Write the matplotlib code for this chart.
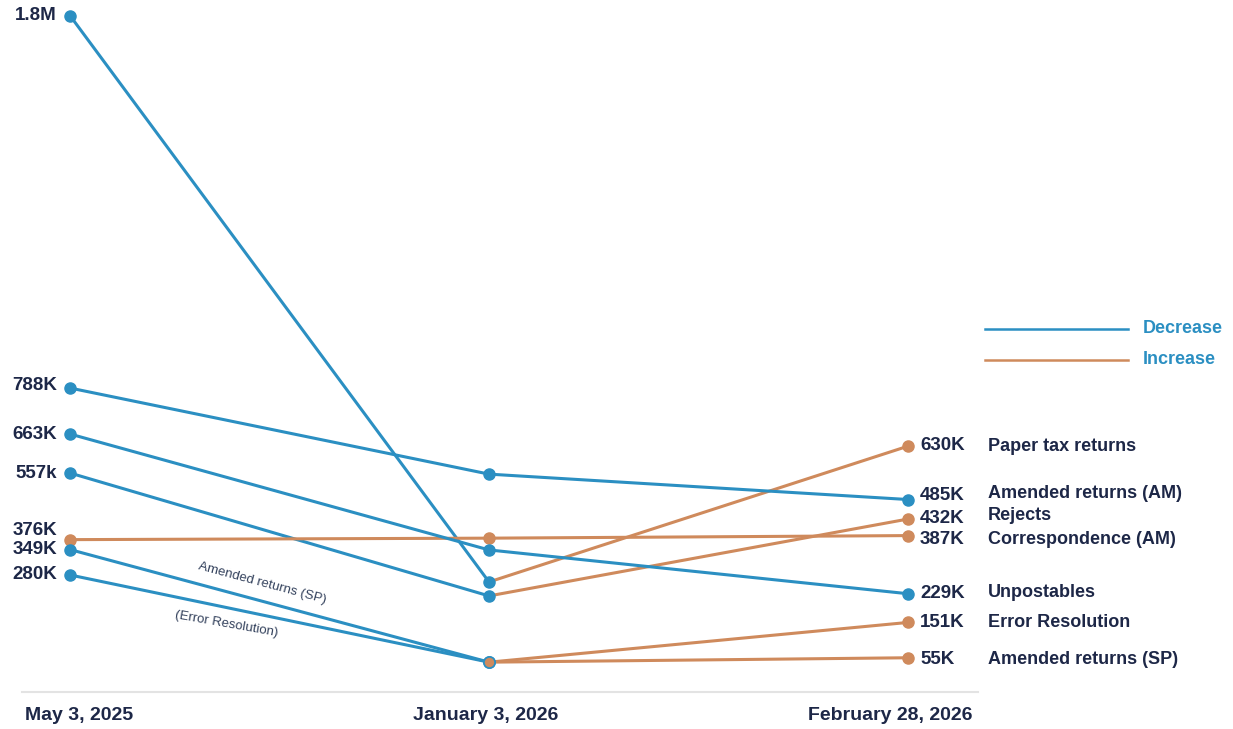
import matplotlib
matplotlib.use("Agg")
import matplotlib.pyplot as plt

# ---------------- data ----------------
dates = ["May 3, 2025", "January 3, 2026", "February 28, 2026"]
series = ["Paper tax returns", "Amended returns (AM)", "Rejects", "Correspondence (AM)",
          "Unpostables", "Error Resolution", "Amended returns (SP)"]
may_2025 = [1800, 788, 557, 376, 663, 280, 349]      # thousands
jan_2026 = [261, 554, 223, 380, 348, 43, 43]
feb_2026 = [630, 485, 432, 387, 229, 151, 55]
left_labels = ["1.8M", "788K", "557k", "376K", "663K", "280K", "349K"]
right_labels = ["630K", "485K", "432K", "387K", "229K", "151K", "55K"]
legend_labels = ["Decrease", "Increase"]

# ---------------- style ----------------
BLUE = "#2b8fc2"
ORANGE = "#cf8a5c"
NAVY = "#1d2747"
FONT = ["Liberation Sans", "DejaVu Sans"]
W, H = 1233, 729
fig = plt.figure(figsize=(W / 100, H / 100), dpi=100)
ax = fig.add_axes([0, 0, 1, 1])
ax.axis("off")

# pixel mapping: x=0 -> 70px, x=2 -> 908px ; 0K -> 678px, 0.368 px per K
PX_PER_X = 419.0
PX_PER_K = 0.368
X0, Y0 = 70.0, 678.0
ax.set_xlim(-X0 / PX_PER_X, (W - X0) / PX_PER_X)
ax.set_ylim((Y0 - H) / PX_PER_K, Y0 / PX_PER_K)

def px2x(px):
    return (px - X0) / PX_PER_X

def px2y(py):
    return (Y0 - py) / PX_PER_K

xs = [0, 1, 2]
vals = list(zip(may_2025, jan_2026, feb_2026))

# lines (segment coloured by direction)
for v in vals:
    for i in range(2):
        c = BLUE if v[i + 1] < v[i] else ORANGE
        ax.plot(xs[i:i + 2], v[i:i + 2], color=c, lw=2.2, solid_capstyle="round", zorder=2)

# markers
for v in vals:
    for i in range(3):
        if i == 0:
            c = BLUE if v[1] < v[0] else ORANGE
        elif i == 2:
            c = BLUE if v[2] < v[1] else ORANGE
        else:
            c = BLUE if v[1] < v[0] else ORANGE
            if v[2] > v[1] and v[1] < v[0] and v[1] < 100:
                # shared low point: orange fill with blue rim
                ax.plot(xs[i], v[i], "o", ms=8, mfc=ORANGE, mec=BLUE, mew=1.2, zorder=4)
                continue
            if v[2] > v[1] and v[1] > v[0]:
                c = ORANGE
        ax.plot(xs[i], v[i], "o", ms=8, color=c, zorder=3)

# left value labels (pixel nudges)
left_nudge = [0, 3, 0, 9, 0, 0, 0]
for v, lab, dy in zip(may_2025, left_labels, left_nudge):
    ax.annotate(lab, (0, v), xytext=(-13, dy), textcoords="offset pixels",
                ha="right", va="center", fontsize=13.5, fontweight="bold",
                color=NAVY, family=FONT)

# right value labels and series names
right_nudge = [1, 4, 1, -4, 0, 0, -2]
name_nudge = [0, 6, 4, -4, 1, 0, -2]
for v, lab, name, dy, dn in zip(feb_2026, right_labels, series, right_nudge, name_nudge):
    ax.annotate(lab, (2, v), xytext=(12, dy), textcoords="offset pixels",
                ha="left", va="center", fontsize=13.5, fontweight="bold",
                color=NAVY, family=FONT)
    ax.annotate(name, (2, v), xytext=(80, dn), textcoords="offset pixels",
                ha="left", va="center", fontsize=13, fontweight="bold",
                color=NAVY, family=FONT)

# in-line annotations
ax.text(px2x(262), px2y(583), "Amended returns (SP)", rotation=-15, rotation_mode="anchor",
        ha="center", va="center", fontsize=9.5, color="#33415c", family=FONT)
ax.text(px2x(226), px2y(624), "(Error Resolution)", rotation=-10, rotation_mode="anchor",
        ha="center", va="center", fontsize=9.5, color="#33415c", family=FONT)

# baseline
ax.plot([px2x(22), px2x(978)], [px2y(692), px2y(692)], color="#e3e3e3", lw=1.5, zorder=1)

# date labels
date_font = ["Liberation Sans Narrow", "Liberation Sans", "DejaVu Sans"]
date_x = [px2x(25), px2x(486), px2x(972)]
date_ha = ["left", "center", "right"]
for d, x, ha in zip(dates, date_x, date_ha):
    ax.text(x, px2y(716), d, ha=ha, va="center", fontsize=14, fontweight="bold",
            color=NAVY, family=date_font)

# legend
for lab, c, py in zip(legend_labels, [BLUE, ORANGE], [329, 360]):
    ax.plot([px2x(985), px2x(1128)], [px2y(py), px2y(py)], color=c, lw=1.8)
    ax.text(px2x(1143), px2y(py), lab, ha="left", va="center", fontsize=13,
            fontweight="bold", color=BLUE, family=FONT)

fig.savefig("out.png", dpi=100, facecolor="white")
